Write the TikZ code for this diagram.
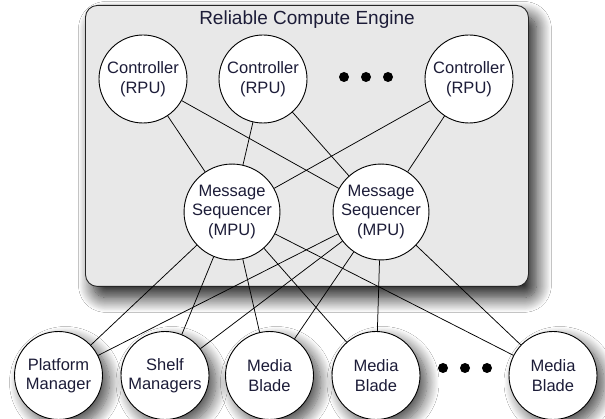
\documentclass[tikz,border=0pt]{standalone}
\usepackage{fontspec}
\setmainfont{Liberation Sans}
\usetikzlibrary{shadows.blur}
\definecolor{boxgray}{HTML}{E8E8E8}
\definecolor{inktext}{HTML}{1C1C38}
\tikzset{
  unit/.style={circle, draw=black, line width=0.9pt, fill=white, minimum size=88pt, inner sep=0pt,
    align=center, text=inktext, font=\fontsize{16.5}{19.5}\selectfont},
  lowunit/.style={unit, blur shadow={shadow xshift=7pt, shadow yshift=-7pt, shadow blur steps=14, shadow blur radius=12pt, shadow opacity=70}},
  link/.style={draw=black, line width=0.75pt},
  engine/.style={draw=black!85, line width=0.9pt, fill=boxgray, rounded corners=12pt,
    blur shadow={shadow xshift=8pt, shadow yshift=-11pt, shadow blur steps=18, shadow blur radius=15pt, shadow opacity=90}},
  dotmark/.style={circle, fill=black, minimum size=10pt, inner sep=0pt},
  title/.style={font=\fontsize{19}{22}\selectfont, text=inktext}
}
\begin{document}
\begin{tikzpicture}[x=1pt,y=-1pt]
\useasboundingbox (0,0) rectangle (605,419);
\fill[white] (0,0) rectangle (605,419);
\node[engine, minimum width=443pt, minimum height=281pt, anchor=north west] (eng) at (85,5) {};
\node[title] (ttl) at (307,20) {Reliable Compute Engine};
% controllers
\node[unit] (c1) at (143,79) {Controller\\(RPU)};
\node[unit] (c2) at (263,79) {Controller\\(RPU)};
\node[unit] (c3) at (469,79) {Controller\\(RPU)};
\node[dotmark] (d1) at (344,77) {};
\node[dotmark] (d2) at (366,77) {};
\node[dotmark] (d3) at (388,77) {};
% sequencers
\node[unit] (m1) at (232,212) {Message\\Sequencer\\(MPU)};
\node[unit] (m2) at (381,212) {Message\\Sequencer\\(MPU)};
% bottom
\node[lowunit] (pm) at (58.5,375.5) {Platform\\Manager};
\node[lowunit] (sm) at (165,375.5) {Shelf\\Managers};
\node[lowunit] (b1) at (269.5,375.5) {Media\\Blade};
\node[lowunit] (b2) at (376,375.5) {Media\\Blade};
\node[lowunit] (b3) at (553,375.5) {Media\\Blade};
\node[dotmark] (e1) at (443,368) {};
\node[dotmark] (e2) at (465,368) {};
\node[dotmark] (e3) at (487,368) {};
% links
\foreach \c in {c1,c2,c3}{
  \draw[link] (\c) -- (m1);
  \draw[link] (\c) -- (m2);
}
\foreach \b in {pm,sm,b1,b2,b3}{
  \draw[link] (m1) -- (\b);
  \draw[link] (m2) -- (\b);
}
\end{tikzpicture}
\end{document}
